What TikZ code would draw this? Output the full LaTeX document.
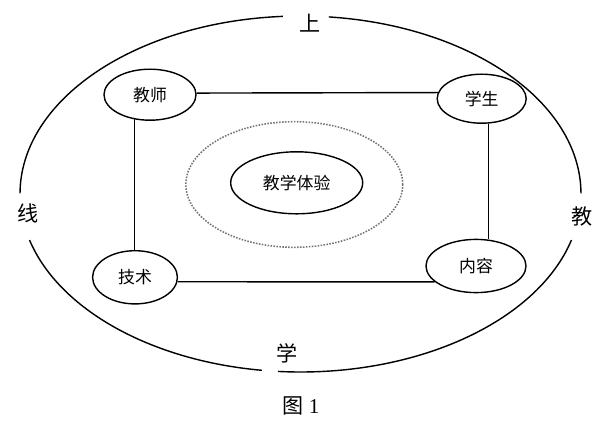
\documentclass[tikz,border=0pt]{standalone}
\usepackage{fontspec}
\setmainfont{Liberation Serif}
\newfontfamily\cjk{Noto Sans CJK SC}
\usetikzlibrary{shapes.geometric}

\begin{document}
\begin{tikzpicture}[
  x=0.025cm, y=-0.025cm,
  every node/.style={font=\cjk\fontsize{12}{14}\selectfont},
  role/.style={draw, ellipse, line width=1pt, inner sep=0pt},
  core/.style={draw, ellipse, line width=1pt, inner sep=0pt,
               minimum width=3.3cm, minimum height=1.55cm},
  ring/.style={draw=black!55, ellipse, densely dotted, line width=1.1pt,
               minimum width=5.42cm, minimum height=3.14cm},
  side/.style={font=\cjk\fontsize{15}{17}\selectfont, inner sep=0pt},
  link/.style={line width=1pt}
]
  \useasboundingbox (0,0) rectangle (600,429);

  %% Outer ring, broken where the labels sit
  \coordinate (O) at (300.5,194);
  \draw[link] (O) ++(15:280.5 and 178)
    arc[start angle=15, end angle=94.6, x radius=280.5, y radius=178];
  \draw[link] (O) ++(97.9:280.5 and 178)
    arc[start angle=97.9, end angle=165, x radius=280.5, y radius=178];
  \draw[link] (O) ++(180.2:280.5 and 178)
    arc[start angle=180.2, end angle=266.4, x radius=280.5, y radius=178];
  \draw[link] (O) ++(275.8:280.5 and 178)
    arc[start angle=275.8, end angle=359.8, x radius=280.5, y radius=178];

  \node[side] (shang) at (310,23)  {上};
  \node[side] (xian)  at (28,213)  {线};
  \node[side] (jiao)  at (582,217) {教};
  \node[side] (xue)   at (287,353) {学};

  %% Centre
  \node[ring] (halo) at (294.3,184.5) {};
  \node[core] (tiyan) at (296.7,182.8) {教学体验};

  %% Four corners
  \node[role, minimum width=2.3cm,  minimum height=1.275cm] (jiaoshi) at (150,94.7)   {教师};
  \node[role, minimum width=2.225cm, minimum height=1.225cm] (xuesheng) at (481.7,98.7) {学生};
  \node[role, minimum width=2.12cm, minimum height=1.33cm]  (jishu)   at (135,277.3)  {技术};
  \node[role, minimum width=2.5cm,  minimum height=1.33cm]  (neirong) at (476,266)    {内容};

  %% Frame
  \draw[link] (jiaoshi.2.5) -- (xuesheng.172);
  \draw[link] (jiaoshi.238) -- (jiaoshi.238 |- jishu.north);
  \draw[link] (xuesheng.285) -- (xuesheng.285 |- neirong.north);
  \draw[link] (jishu.-6) -- (neirong.201);

  %% Caption
  \node[font=\fontsize{15}{17}\selectfont] (cap) at (301,406) {{\cjk 图}\ 1};
\end{tikzpicture}
\end{document}
